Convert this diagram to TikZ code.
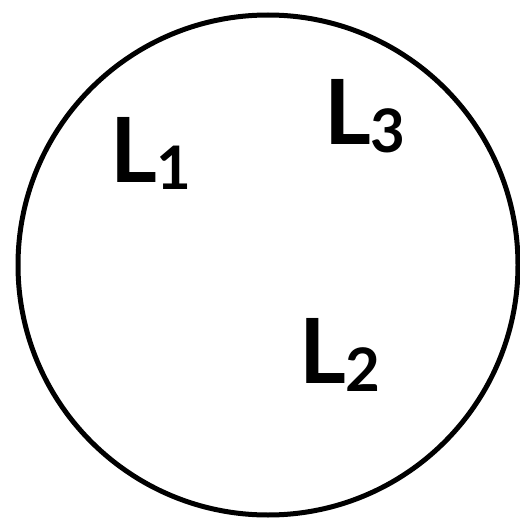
\documentclass[tikz,border=0pt]{standalone}
\usepackage{fontspec}
\setmainfont{Lato}
\begin{document}
\begin{tikzpicture}[x=1pt,y=-1pt,
  lbl/.style={inner sep=0pt,anchor=base west,font=\fontsize{90}{90}\selectfont\bfseries}]
\useasboundingbox (0,0) rectangle (520,519);
\node[draw,circle,line width=5pt,minimum size=500pt,inner sep=0pt] (c) at (268,265) {};
\newcommand{\mysub}[1]{\raisebox{-8pt}{\fontsize{60}{60}\selectfont #1}}
\node[lbl] (l1) at (110,182) {L\mysub{1}};
\node[lbl] (l3) at (324,145) {L\mysub{3}};
\node[lbl] (l2) at (299,383) {L\mysub{2}};
\end{tikzpicture}
\end{document}
